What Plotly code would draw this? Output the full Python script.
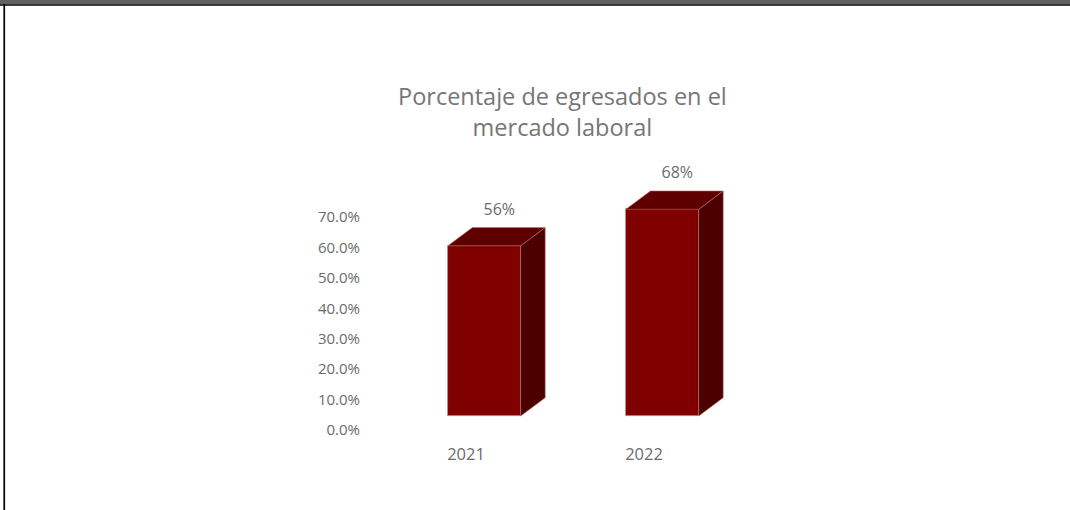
import plotly.graph_objects as go

# ---- data ----
categories = ["2021", "2022"]
values = [0.56, 0.68]
value_labels = ["56%", "68%"]
y_tickvals = [0.0, 0.1, 0.2, 0.3, 0.4, 0.5, 0.6, 0.7]
title_text = "Porcentaje de egresados en el<br>mercado laboral"

# ---- layout geometry (pixels) ----
W, H = 1070, 510
PL, PR, PT, PB = 364, 780, 120, 442          # plot area in page pixels
CAT0_PX, CAT_STEP = 466.0, 178.0             # category label centres
ZERO_PX, PX_PER_UNIT = 430.0, 304.0          # y=0 pixel, pixels per 1.0

xr0 = (PL - CAT0_PX) / CAT_STEP
xr1 = (PR - CAT0_PX) / CAT_STEP
yr0 = (ZERO_PX - PB) / PX_PER_UNIT
yr1 = (ZERO_PX - PT) / PX_PER_UNIT

# 3D bar styling (in axis units)
FRONT_OFF = 18.3 / CAT_STEP
BAR_W = 72.8 / CAT_STEP
DX = 24.5 / CAT_STEP
DY = 18.3 / PX_PER_UNIT
BASE = 14.0 / PX_PER_UNIT
LBL_DX = 15.0 / CAT_STEP
LBL_DY = 35.0 / PX_PER_UNIT

FRONT = "#800000"
TOP = "#5f0000"
SIDE = "#4c0000"
EDGE = "rgba(190,110,110,0.7)"
TXT = "#6b6b6b"
FONT = "Open Sans, Liberation Sans, sans-serif"

fig = go.Figure()

xs = [i for i in range(len(categories))]
fronts = [x + FRONT_OFF for x in xs]

# side and top faces
for xc, v in zip(fronts, values):
    xl, xr = xc - BAR_W / 2, xc + BAR_W / 2
    yb, yt = BASE, BASE + v
    fig.add_trace(go.Scatter(
        x=[xr, xr + DX, xr + DX, xr, xr], y=[yb, yb + DY, yt + DY, yt, yb],
        fill="toself", fillcolor=SIDE, mode="lines",
        line=dict(color=EDGE, width=0.8), hoverinfo="skip", showlegend=False))
    fig.add_trace(go.Scatter(
        x=[xl, xr, xr + DX, xl + DX, xl], y=[yt, yt, yt + DY, yt + DY, yt],
        fill="toself", fillcolor=TOP, mode="lines",
        line=dict(color=EDGE, width=0.8), hoverinfo="skip", showlegend=False))

# front faces
fig.add_trace(go.Bar(
    x=fronts, y=values, base=BASE, width=BAR_W,
    marker=dict(color=FRONT, line=dict(color=EDGE, width=0.8)),
    showlegend=False, hoverinfo="skip"))

# value labels
fig.add_trace(go.Scatter(
    x=[x + LBL_DX for x in fronts], y=[BASE + v + LBL_DY for v in values],
    mode="text", text=value_labels, textposition="middle center",
    textfont=dict(size=16, color=TXT, family=FONT),
    showlegend=False, hoverinfo="skip", cliponaxis=False))

def px_x(p):
    return (p - PL) / (PR - PL)

def px_y(p):
    return (PB - p) / (PB - PT)

shapes = [
    dict(type="rect", xref="paper", yref="paper", x0=px_x(0), x1=px_x(W),
         y0=px_y(0), y1=px_y(4.3), fillcolor="#616161", line=dict(width=0), layer="above"),
    dict(type="rect", xref="paper", yref="paper", x0=px_x(0), x1=px_x(W),
         y0=px_y(4.3), y1=px_y(5.8), fillcolor="#000000", line=dict(width=0), layer="above"),
    dict(type="rect", xref="paper", yref="paper", x0=px_x(3.4), x1=px_x(5.1),
         y0=px_y(4.3), y1=px_y(H), fillcolor="#000000", line=dict(width=0), layer="above"),
]

fig.update_layout(
    width=W, height=H,
    margin=dict(l=PL, r=W - PR, t=PT, b=H - PB, pad=0),
    paper_bgcolor="white", plot_bgcolor="white",
    font=dict(family=FONT, color=TXT, size=14),
    bargap=0,
    shapes=shapes,
    annotations=[dict(
        text=title_text, xref="paper", yref="paper",
        x=px_x(562), y=px_y(112), xanchor="center", yanchor="middle",
        showarrow=False, font=dict(size=23.5, color="#767676", family=FONT))],
    xaxis=dict(range=[xr0, xr1], tickvals=xs, ticktext=categories,
               showgrid=False, zeroline=False, showline=False, ticks="",
               tickfont=dict(size=16.5, color=TXT)),
    yaxis=dict(range=[yr0, yr1], tickvals=y_tickvals, tickformat=".1%",
               showgrid=False, zeroline=False, showline=False, ticks="",
               ticklabelstandoff=3,
               tickfont=dict(size=15, color=TXT)),
)

fig.write_html("out.html")
